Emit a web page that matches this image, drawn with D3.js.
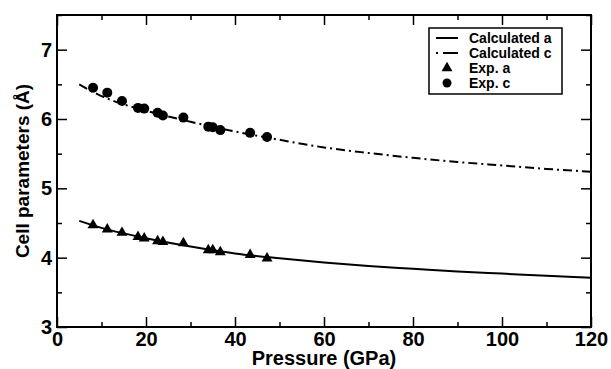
<!DOCTYPE html>
<html>
<head>
<meta charset="utf-8">
<script src="https://cdn.jsdelivr.net/npm/d3@7"></script>
<style>
  body { margin: 0; background: #fff; }
  svg text { font-family: "Liberation Sans", Arial, sans-serif; font-weight: bold; }
</style>
</head>
<body>
<div id="chart"></div>
<script>
// calculated curves
var calcP = [5, 10, 15, 20, 30, 40, 50, 60, 70, 80, 90, 100, 110, 120];
var calcA = [4.53, 4.43, 4.35, 4.28, 4.16, 4.06, 3.99, 3.93, 3.88, 3.84, 3.80, 3.77, 3.74, 3.71];
var calcC = [6.50, 6.33, 6.21, 6.12, 5.96, 5.82, 5.70, 5.59, 5.51, 5.44, 5.38, 5.33, 5.28, 5.24];

// experimental points
var expP = [8.1, 11.3, 14.6, 18.2, 19.6, 22.6, 23.8, 28.4, 34.0, 35.0, 36.7, 43.4, 47.2];
var expA = [4.47, 4.41, 4.36, 4.30, 4.28, 4.24, 4.23, 4.21, 4.11, 4.11, 4.08, 4.04, 3.99];
var expC = [6.45, 6.38, 6.26, 6.16, 6.15, 6.09, 6.05, 6.02, 5.89, 5.88, 5.84, 5.80, 5.74];

var xTicks = [0, 20, 40, 60, 80, 100, 120];
var yTicks = [3, 4, 5, 6, 7];

var legendItems = ["Calculated a", "Calculated c", "Exp. a", "Exp. c"];

var W = 611, H = 369;
var margin = {top: 15, right: 20, bottom: 42, left: 57};
var width = W - margin.left - margin.right,
    height = H - margin.top - margin.bottom;

var svg = d3.select("#chart").append("svg")
    .attr("width", W)
    .attr("height", H)
  .append("g")
    .attr("transform", "translate(" + margin.left + "," + margin.top + ")");

var x = d3.scaleLinear().domain([0, 120]).range([0, width]);
var y = d3.scaleLinear().domain([3, 7.5]).range([height, 0]);

function styleAxis(g) {
  g.select(".domain").remove();
  g.selectAll(".tick line").attr("stroke", "#000").attr("stroke-width", 1.5);
  g.selectAll(".tick text").attr("fill", "#000").style("font-size", "20px");
}

var xMinor = d3.range(10, 120, 20);
var yMinor = [3.5, 4.5, 5.5, 6.5, 7.5];
var fmt = d3.format("d");

// bottom
svg.append("g").attr("transform", "translate(0," + height + ")")
  .call(d3.axisBottom(x).tickValues(xTicks).tickFormat(fmt).tickSizeInner(-10).tickSizeOuter(0).tickPadding(5))
  .call(styleAxis);
svg.append("g").attr("transform", "translate(0," + height + ")")
  .call(d3.axisBottom(x).tickValues(xMinor).tickSizeInner(-5).tickSizeOuter(0).tickFormat(""))
  .call(styleAxis);
// top
svg.append("g")
  .call(d3.axisTop(x).tickValues(xTicks).tickSizeInner(-10).tickSizeOuter(0).tickFormat(""))
  .call(styleAxis);
svg.append("g")
  .call(d3.axisTop(x).tickValues(xMinor).tickSizeInner(-5).tickSizeOuter(0).tickFormat(""))
  .call(styleAxis);
// left
svg.append("g")
  .call(d3.axisLeft(y).tickValues(yTicks).tickFormat(fmt).tickSizeInner(-10).tickSizeOuter(0).tickPadding(5))
  .call(styleAxis);
svg.append("g")
  .call(d3.axisLeft(y).tickValues(yMinor).tickSizeInner(-5).tickSizeOuter(0).tickFormat(""))
  .call(styleAxis);
// right
svg.append("g").attr("transform", "translate(" + width + ",0)")
  .call(d3.axisRight(y).tickValues(yTicks).tickSizeInner(-10).tickSizeOuter(0).tickFormat(""))
  .call(styleAxis);
svg.append("g").attr("transform", "translate(" + width + ",0)")
  .call(d3.axisRight(y).tickValues(yMinor).tickSizeInner(-5).tickSizeOuter(0).tickFormat(""))
  .call(styleAxis);

// frame
svg.append("rect")
  .attr("width", width).attr("height", height)
  .attr("fill", "none").attr("stroke", "#000").attr("stroke-width", 2);

// curves
var lineA = d3.line().curve(d3.curveMonotoneX)
  .x(function(d, i) { return x(calcP[i]); })
  .y(function(d) { return y(d); });

svg.append("path").datum(calcA)
  .attr("d", lineA)
  .attr("fill", "none").attr("stroke", "#000").attr("stroke-width", 2);

svg.append("path").datum(calcC)
  .attr("d", lineA)
  .attr("fill", "none").attr("stroke", "#000").attr("stroke-width", 2)
  .attr("stroke-dasharray", "9,4,2,4");

// experimental markers
var tri = d3.symbol().type(d3.symbolTriangle).size(52);
svg.append("g").selectAll("path")
  .data(expA)
  .enter().append("path")
    .attr("d", tri)
    .attr("transform", function(d, i) { return "translate(" + x(expP[i]) + "," + y(d) + ")"; })
    .attr("fill", "#000");

svg.append("g").selectAll("circle")
  .data(expC)
  .enter().append("circle")
    .attr("cx", function(d, i) { return x(expP[i]); })
    .attr("cy", function(d) { return y(d); })
    .attr("r", 5)
    .attr("fill", "#000");

// axis titles
svg.append("text")
  .attr("x", width / 2)
  .attr("y", height + 38)
  .attr("text-anchor", "middle")
  .style("font-size", "20px")
  .text("Pressure (GPa)");

svg.append("text")
  .attr("transform", "rotate(-90)")
  .attr("x", -height / 2)
  .attr("y", -28)
  .attr("text-anchor", "middle")
  .style("font-size", "19px")
  .text("Cell parameters (Å)");

// legend
var lg = svg.append("g").attr("transform", "translate(" + (width - 162) + ",13)");
lg.append("rect")
  .attr("width", 133).attr("height", 66)
  .attr("fill", "#fff").attr("stroke", "#000").attr("stroke-width", 1.5);

var rows = lg.selectAll("g.row")
  .data(legendItems)
  .enter().append("g")
    .attr("class", "row")
    .attr("transform", function(d, i) { return "translate(0," + (10 + i * 15) + ")"; });

rows.append("text")
  .attr("x", 40)
  .attr("y", 5)
  .style("font-size", "14px")
  .text(function(d) { return d; });

rows.filter(function(d, i) { return i < 2; }).append("line")
  .attr("x1", 7).attr("x2", 29)
  .attr("stroke", "#000").attr("stroke-width", 2)
  .attr("stroke-dasharray", function(d, i) { return i === 1 ? "2,5,15" : null; });

rows.filter(function(d, i) { return i === 2; }).append("path")
  .attr("d", tri)
  .attr("transform", "translate(18,0)");

rows.filter(function(d, i) { return i === 3; }).append("circle")
  .attr("cx", 18).attr("r", 4.5);
</script>
</body>
</html>
